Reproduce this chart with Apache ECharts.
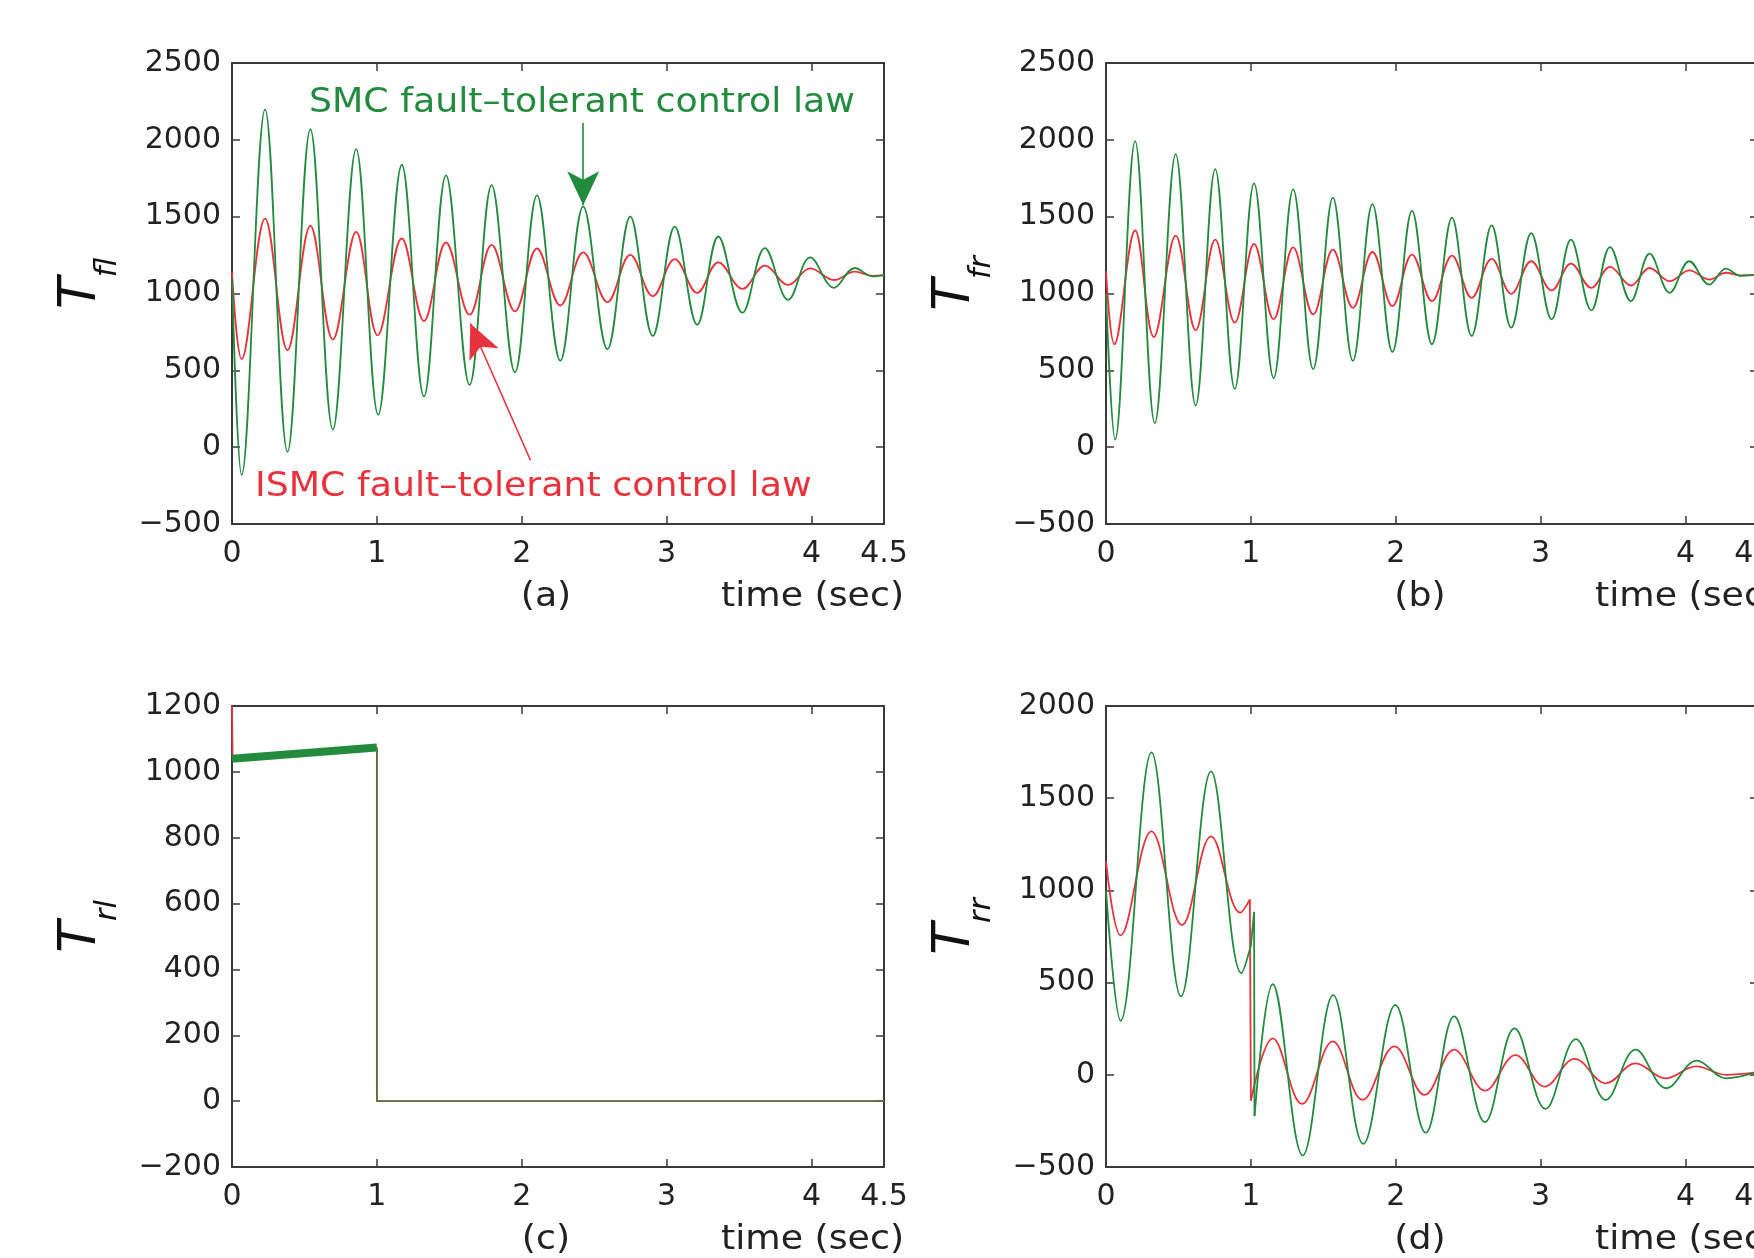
<!DOCTYPE html>
<html><head><meta charset="utf-8">
<script src="https://cdn.jsdelivr.net/npm/echarts@6/dist/echarts.min.js"></script>
<style>html,body{margin:0;padding:0;background:#fff}#c{width:1754px;height:1258px}</style>
</head><body><div id="c"></div>
<script>
// ---------- tick labels ----------
const xTicks = [0, 1, 2, 3, 4, 4.5];
const yTicksA = [-500, 0, 500, 1000, 1500, 2000, 2500];
const yTicksB = [-500, 0, 500, 1000, 1500, 2000, 2500];
const yTicksC = [-200, 0, 200, 400, 600, 800, 1000, 1200];
const yTicksD = [-500, 0, 500, 1000, 1500, 2000];
const panelNames = ['(a)', '(b)', '(c)', '(d)'];
const ySubs = ['fl', 'fr', 'rl', 'rr'];

// ---------- (a) T_fl : [time, torque] extrema ----------
const aSMC = [[0,1100],[0.067,-181],[0.228,2198],[0.383,-30],[0.541,2069],[0.696,114],[0.857,1940],[1.009,211],[1.172,1838],[1.325,330],[1.477,1769],[1.640,405],[1.792,1705],[1.953,487],[2.105,1638],[2.266,563],[2.424,1565],[2.591,638],[2.749,1500],[2.904,724],[3.056,1435],[3.211,797],[3.357,1371],[3.523,875],[3.678,1295],[3.839,959],[3.991,1235],[4.155,1037],[4.298,1166],[4.42,1112],[4.5,1120]];
const aISMC = [[0,1138],[0.067,573],[0.228,1487],[0.383,632],[0.541,1440],[0.696,700],[0.857,1401],[1.005,728],[1.172,1358],[1.325,821],[1.477,1332],[1.640,862],[1.792,1317],[1.953,884],[2.105,1293],[2.266,922],[2.424,1267],[2.591,944],[2.749,1252],[2.904,983],[3.056,1224],[3.211,1004],[3.357,1203],[3.523,1030],[3.678,1181],[3.839,1056],[3.991,1164],[4.155,1088],[4.298,1142],[4.42,1115],[4.5,1120]];

// ---------- (b) T_fr ----------
const bSMC = [[0,1000],[0.063,49],[0.201,1991],[0.337,156],[0.481,1907],[0.619,271],[0.754,1809],[0.889,379],[1.022,1717],[1.157,450],[1.292,1678],[1.430,508],[1.566,1624],[1.704,562],[1.839,1581],[1.977,620],[2.112,1538],[2.250,670],[2.388,1494],[2.524,724],[2.662,1443],[2.797,778],[2.935,1393],[3.076,832],[3.209,1350],[3.350,890],[3.479,1302],[3.623,951],[3.752,1259],[3.891,1005],[4.026,1210],[4.164,1058],[4.279,1162],[4.38,1115],[4.5,1122]];
const bISMC = [[0,1145],[0.058,670],[0.201,1410],[0.330,717],[0.481,1376],[0.619,761],[0.754,1350],[0.889,810],[1.022,1322],[1.157,832],[1.292,1300],[1.430,864],[1.566,1285],[1.704,907],[1.839,1270],[1.977,918],[2.112,1253],[2.250,951],[2.388,1246],[2.524,972],[2.662,1225],[2.797,998],[2.935,1210],[3.076,1020],[3.209,1194],[3.350,1037],[3.479,1173],[3.623,1052],[3.752,1166],[3.891,1080],[4.026,1151],[4.164,1091],[4.279,1135],[4.38,1118],[4.5,1122]];

// ---------- (c) T_rl ----------
const cISMC = [[0,1200],[0.004,1045],[1,1072],[1,0],[4.5,0]];
const cSMCband = [[0,1040],[1,1074]];
const cSMC = [[1,1074],[1,0],[4.5,0]];

// ---------- (d) T_rr ----------
const dSMCpre = [[0,1000],[0.101,293],[0.314,1748],[0.518,425],[0.725,1645],[0.935,551],[1.0,700]];
const dSMCfault = [[1.0,700],[1.022,884],[1.025,-224]];
const dSMCpost = [[1.025,-224],[1.151,491],[1.358,-437],[1.568,432],[1.776,-374],[1.997,378],[2.207,-314],[2.403,317],[2.616,-257],[2.820,252],[3.033,-185],[3.243,194],[3.450,-136],[3.655,136],[3.868,-73],[4.078,77],[4.279,-19],[4.5,17]];
const dISMCpre = [[0,1158],[0.101,756],[0.314,1320],[0.524,812],[0.725,1293],[0.927,879],[0.993,951]];
const dISMCfault = [[0.993,951],[1.0,-140]];
const dISMCpost = [[1.0,-140],[1.151,198],[1.353,-158],[1.565,181],[1.770,-136],[1.991,154],[2.199,-109],[2.403,136],[2.616,-86],[2.826,107],[3.027,-64],[3.235,86],[3.450,-46],[3.655,62],[3.862,-19],[4.072,46],[4.279,0],[4.5,14]];

// ---------- annotation arrows in (a): [start, tip] ----------
const smcArrow = [[2.424, 2110], [2.424, 1575]];
const ismcArrow = [[2.06, -85], [1.645, 805]];

// ---------- styling ----------
const GREEN = '#228b3e', RED = '#e8323c', AX = '#3a3a3a', TXT = '#222';
const FONT = 'DejaVu Sans';
const grids = [
  {left: 232, top: 63, width: 652, height: 461},
  {left: 1106, top: 63, width: 652, height: 461},
  {left: 232, top: 706, width: 652, height: 461},
  {left: 1106, top: 706, width: 652, height: 461}
].map(g => Object.assign({outerBoundsMode: 'none', containLabel: false}, g));
const yTickSets = [yTicksA, yTicksB, yTicksC, yTicksD];

const xAxes = [], yAxes = [];
grids.forEach((g, i) => {
  const common = {
    gridIndex: i, type: 'value',
    min: xTicks[0], max: xTicks[xTicks.length - 1], interval: xTicks[1] - xTicks[0],
    splitLine: {show: false},
    axisLine: {onZero: false, lineStyle: {color: AX, width: 2}},
    axisTick: {inside: true, length: 8, lineStyle: {color: AX, width: 1.5}}
  };
  xAxes.push(Object.assign({}, common, {
    position: 'bottom',
    axisLabel: {fontFamily: FONT, fontSize: 30, color: TXT, margin: 15, showMaxLabel: true,
      formatter: v => String(v)}
  }));
  xAxes.push(Object.assign({}, common, {position: 'top', axisLabel: {show: false}}));
  const yt = yTickSets[i];
  const ycommon = {
    gridIndex: i, type: 'value',
    min: yt[0], max: yt[yt.length - 1], interval: yt[1] - yt[0],
    splitLine: {show: false},
    axisLine: {onZero: false, lineStyle: {color: AX, width: 2}},
    axisTick: {inside: true, length: 8, lineStyle: {color: AX, width: 1.5}}
  };
  yAxes.push(Object.assign({}, ycommon, {
    position: 'left',
    axisLabel: {fontFamily: FONT, fontSize: 30, color: TXT, margin: 11,
      formatter: v => v < 0 ? '\u2212' + (-v) : String(v)},
    name: '{t|T}{s|' + ySubs[i] + '}', nameLocation: 'middle', nameRotate: 90, nameGap: 125,
    nameTextStyle: {rich: {
      t: {fontFamily: FONT, fontStyle: 'italic', fontSize: 52, lineHeight: 52, verticalAlign: 'top', padding: [0, 0, 0, 20], color: '#111'},
      s: {fontFamily: FONT, fontStyle: 'italic', fontSize: 30, lineHeight: 30, verticalAlign: 'top', padding: [38, 0, 0, 0], color: '#111'}
    }}
  }));
  yAxes.push(Object.assign({}, ycommon, {position: 'right', axisLabel: {show: false}}));
});

function line(data, color, gi, opt) {
  opt = opt || {};
  return {
    type: 'line', xAxisIndex: gi * 2, yAxisIndex: gi * 2, data: data,
    symbol: 'none', showSymbol: false, silent: true, animation: false,
    smooth: opt.smooth === false ? false : 0.38, clip: true,
    z: opt.z || 2,
    lineStyle: {color: color, width: opt.width || 1.8, opacity: opt.opacity == null ? 1 : opt.opacity},
    markLine: opt.markLine
  };
}

const arrowMark = {
  silent: true, animation: false, symbol: ['none', 'arrow'], precision: 4,
  label: {show: false},
  data: [
    [{coord: smcArrow[0], lineStyle: {color: GREEN, width: 1.6, type: 'solid'}, itemStyle: {color: GREEN}},
     {coord: smcArrow[1], symbol: 'arrow', symbolSize: [24, 34], itemStyle: {color: GREEN}}],
    [{coord: ismcArrow[0], lineStyle: {color: RED, width: 1.6, type: 'solid'}, itemStyle: {color: RED}},
     {coord: ismcArrow[1], symbol: 'arrow', symbolSize: [24, 34], itemStyle: {color: RED}}]
  ]
};

const series = [
  line(aISMC, RED, 0, {z: 2, markLine: arrowMark}),
  line(aSMC, GREEN, 0, {z: 3}),
  line(bISMC, RED, 1, {z: 2}),
  line(bSMC, GREEN, 1, {z: 3}),
  line(cISMC, RED, 2, {smooth: false, z: 2}),
  line(cSMCband, GREEN, 2, {smooth: false, z: 3, width: 8}),
  line(cSMC, GREEN, 2, {smooth: false, z: 3, opacity: 0.72}),
  line(dISMCpre, RED, 3, {z: 2}),
  line(dISMCfault, RED, 3, {smooth: false, z: 2}),
  line(dISMCpost, RED, 3, {z: 2}),
  line(dSMCpre, GREEN, 3, {z: 3}),
  line(dSMCfault, GREEN, 3, {smooth: false, z: 3}),
  line(dSMCpost, GREEN, 3, {z: 3})
];

// ---------- texts ----------
const graphic = [];
function txt(s, x, y, align, color, size) {
  graphic.push({type: 'text', x: x, y: y, scaleX: 1.1, silent: true,
    style: {text: s, fontFamily: FONT, fontSize: size || 33, fill: color || TXT,
      align: align, textAlign: align, verticalAlign: 'middle', textVerticalAlign: 'middle'}});
}
grids.forEach((g, i) => {
  txt(panelNames[i], g.left + 314, g.top + g.height + 73, 'center');
  txt('time (sec)', g.left + 489, g.top + g.height + 73, 'left');
});
txt('SMC fault\u2013tolerant control law', 309, 103, 'left', GREEN);
txt('ISMC fault\u2013tolerant control law', 255, 487, 'left', RED);

const chart = echarts.init(document.getElementById('c'), null, {renderer: 'canvas'});
chart.setOption({
  backgroundColor: '#fff', animation: false,
  grid: grids, xAxis: xAxes, yAxis: yAxes, series: series, graphic: graphic
});
</script></body></html>
